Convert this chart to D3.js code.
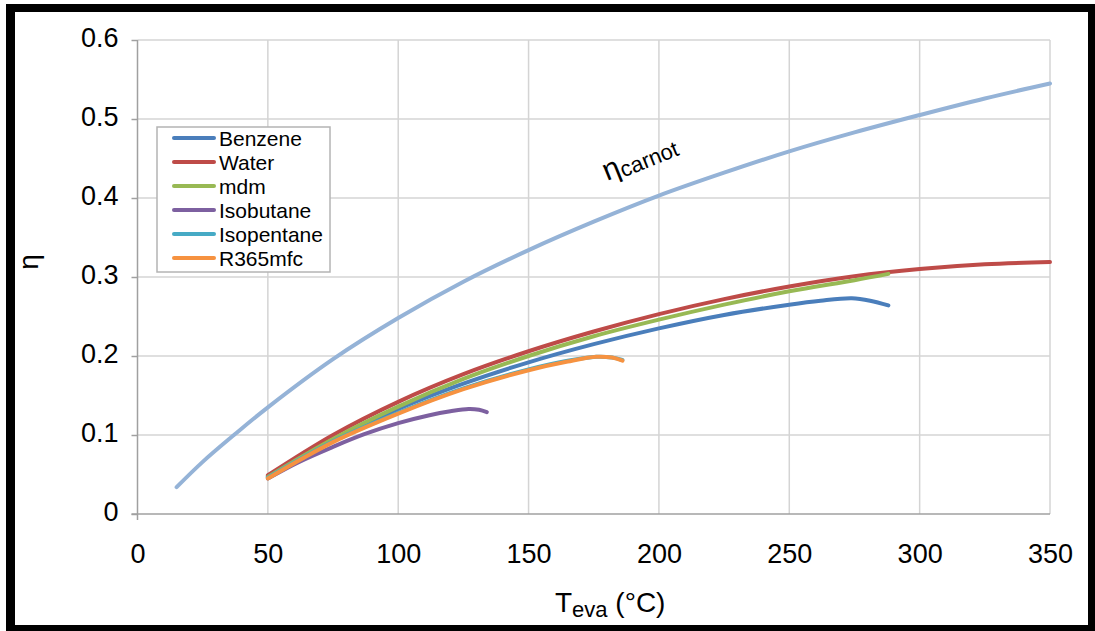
<!DOCTYPE html>
<html>
<head>
<meta charset="utf-8">
<script src="https://cdn.jsdelivr.net/npm/d3@7"></script>
<style>
    body { margin: 0; background: #fff; }
    svg { display: block; font-family: "Liberation Sans", Arial, sans-serif; }
</style>
</head>
<body>
<div id="chart"></div>
<script>
// Data
const xTicks = [0, 50, 100, 150, 200, 250, 300, 350];
const yTicks = [0, 0.1, 0.2, 0.3, 0.4, 0.5, 0.6];

const tempCarnot = [15, 25, 37, 50, 75, 100, 125, 150, 175, 200, 225, 250, 275, 300, 325, 350];
const etaCarnot = [0.034, 0.066, 0.100, 0.135, 0.196, 0.248, 0.294, 0.334, 0.370, 0.403, 0.432, 0.459, 0.483, 0.505, 0.526, 0.545];

const tempBenzene = [50, 75, 100, 125, 150, 175, 200, 225, 250, 262, 274, 281, 288];
const etaBenzene = [0.047, 0.093, 0.133, 0.165, 0.192, 0.215, 0.235, 0.252, 0.265, 0.270, 0.273, 0.270, 0.264];

const tempWater = [50, 75, 100, 125, 150, 175, 200, 225, 250, 275, 300, 325, 350];
const etaWater = [0.049, 0.100, 0.142, 0.177, 0.206, 0.231, 0.253, 0.272, 0.288, 0.301, 0.310, 0.316, 0.319];

const tempMdm = [50, 75, 100, 125, 150, 175, 200, 225, 250, 275, 288];
const etaMdm = [0.047, 0.095, 0.136, 0.171, 0.200, 0.225, 0.246, 0.265, 0.282, 0.296, 0.304];

const tempIsobutane = [50, 62, 75, 87, 100, 112, 120, 127, 131, 134];
const etaIsobutane = [0.045, 0.066, 0.085, 0.101, 0.115, 0.125, 0.130, 0.133, 0.132, 0.129];

const tempIsopentane = [50, 75, 100, 125, 150, 165, 176, 182, 186];
const etaIsopentane = [0.046, 0.092, 0.128, 0.159, 0.183, 0.194, 0.199, 0.198, 0.195];

const tempR365 = [50, 75, 100, 125, 150, 165, 176, 182, 186];
const etaR365 = [0.045, 0.091, 0.127, 0.158, 0.182, 0.193, 0.199, 0.198, 0.194];

const seriesNames = ['Benzene', 'Water', 'mdm', 'Isobutane', 'Isopentane', 'R365mfc'];
const seriesColors = ['#4a7ebb', '#be4b48', '#98b954', '#7d60a0', '#46aac5', '#f69240'];
const seriesTemps = [tempBenzene, tempWater, tempMdm, tempIsobutane, tempIsopentane, tempR365];
const seriesEtas = [etaBenzene, etaWater, etaMdm, etaIsobutane, etaIsopentane, etaR365];

const width = 1095, height = 631;

const svg = d3.select('#chart').append('svg')
    .attr('width', width)
    .attr('height', height);

// black frame
svg.append('rect').attr('x', 6).attr('y', 4).attr('width', width - 6).attr('height', height - 4).attr('fill', '#000');
svg.append('rect').attr('x', 15).attr('y', 12).attr('width', 1073).attr('height', 613).attr('fill', '#fff');

const x = d3.scaleLinear().domain([0, 350]).range([137.5, 1050]);
const y = d3.scaleLinear().domain([0, 0.6]).range([514, 40]);

// gridlines
const grid = svg.append('g').attr('class', 'grid');
grid.selectAll('.vgrid')
    .data(xTicks.filter(d => d > 0))
    .enter().append('line')
    .attr('x1', d => x(d)).attr('x2', d => x(d))
    .attr('y1', y(0)).attr('y2', y(0.6))
    .attr('stroke', '#d4d4d4').attr('stroke-width', 1.5);
grid.selectAll('.hgrid')
    .data(yTicks.filter(d => d > 0))
    .enter().append('line')
    .attr('x1', x(0)).attr('x2', x(350))
    .attr('y1', d => y(d)).attr('y2', d => y(d))
    .attr('stroke', '#d4d4d4').attr('stroke-width', 1.5);

// y axis
const yAxis = svg.append('g')
    .attr('transform', `translate(${x(0)},0)`)
    .call(d3.axisLeft(y).tickValues(yTicks).tickSizeInner(6).tickSizeOuter(0).tickPadding(13)
        .tickFormat(d => d === 0 ? '0' : d3.format('.1f')(d)));
yAxis.select('.domain').remove();
yAxis.selectAll('line').attr('stroke', '#a0a0a0').attr('stroke-width', 1.5);
yAxis.selectAll('text')
    .attr('dy', '0.24em')
    .style('font-size', '27px')
    .attr('fill', '#000');

// x axis
const xAxis = svg.append('g')
    .attr('transform', `translate(0,${y(0)})`)
    .call(d3.axisBottom(x).tickValues(xTicks).tickSize(0).tickPadding(30));
xAxis.select('.domain').remove();
xAxis.selectAll('text')
    .style('font-size', '27px')
    .attr('fill', '#000');

// axis lines
svg.append('line')
    .attr('x1', x(0)).attr('x2', x(0))
    .attr('y1', y(0) + 6).attr('y2', y(0.6))
    .attr('stroke', '#a0a0a0').attr('stroke-width', 1.5);
svg.append('line')
    .attr('x1', x(0) - 6).attr('x2', x(350))
    .attr('y1', y(0)).attr('y2', y(0))
    .attr('stroke', '#a0a0a0').attr('stroke-width', 1.5);

// axis titles
svg.append('text')
    .attr('transform', 'translate(38,262) rotate(-90)')
    .attr('text-anchor', 'middle')
    .style('font-size', '28px')
    .text('η');

const xTitle = svg.append('text')
    .attr('x', 555)
    .attr('y', 612)
    .style('font-size', '28px');
xTitle.append('tspan').text('T');
xTitle.append('tspan').attr('dy', 5).style('font-size', '22px').text('eva');
xTitle.append('tspan').attr('dy', -5).text(' (°C)');

// curves
const line = d3.line()
    .x(d => x(d[0]))
    .y(d => y(d[1]))
    .curve(d3.curveCatmullRom.alpha(0.5));

svg.append('path')
    .datum(tempCarnot.map((t, i) => [t, etaCarnot[i]]))
    .attr('d', line)
    .attr('fill', 'none')
    .attr('stroke', '#95b3d7')
    .attr('stroke-width', 4)
    .attr('stroke-linecap', 'round');

seriesNames.forEach((name, k) => {
    svg.append('path')
        .datum(seriesTemps[k].map((t, i) => [t, seriesEtas[k][i]]))
        .attr('d', line)
        .attr('fill', 'none')
        .attr('stroke', seriesColors[k])
        .attr('stroke-width', 4)
        .attr('stroke-linecap', 'round')
        .attr('stroke-linejoin', 'round');
});

// carnot label
const carnotLabel = svg.append('text')
    .attr('transform', 'translate(607,181) rotate(-22)')
    .style('font-size', '30px');
carnotLabel.append('tspan').text('η');
carnotLabel.append('tspan').attr('dy', 3).style('font-size', '22px').text('carnot');

// legend
const legend = svg.append('g').attr('class', 'legend');
legend.append('rect')
    .attr('x', 157).attr('y', 127)
    .attr('width', 173).attr('height', 145)
    .attr('fill', '#fff')
    .attr('stroke', '#b4b4b4')
    .attr('stroke-width', 1.5);

const items = legend.selectAll('.item')
    .data(seriesNames)
    .enter().append('g')
    .attr('transform', (d, i) => `translate(0,${138 + i * 24})`);
items.append('line')
    .attr('x1', 174).attr('x2', 214)
    .attr('stroke', (d, i) => seriesColors[i])
    .attr('stroke-width', 4)
    .attr('stroke-linecap', 'round');
items.append('text')
    .attr('x', 219)
    .attr('dy', '0.36em')
    .style('font-size', '21px')
    .text(d => d);
</script>
</body>
</html>
